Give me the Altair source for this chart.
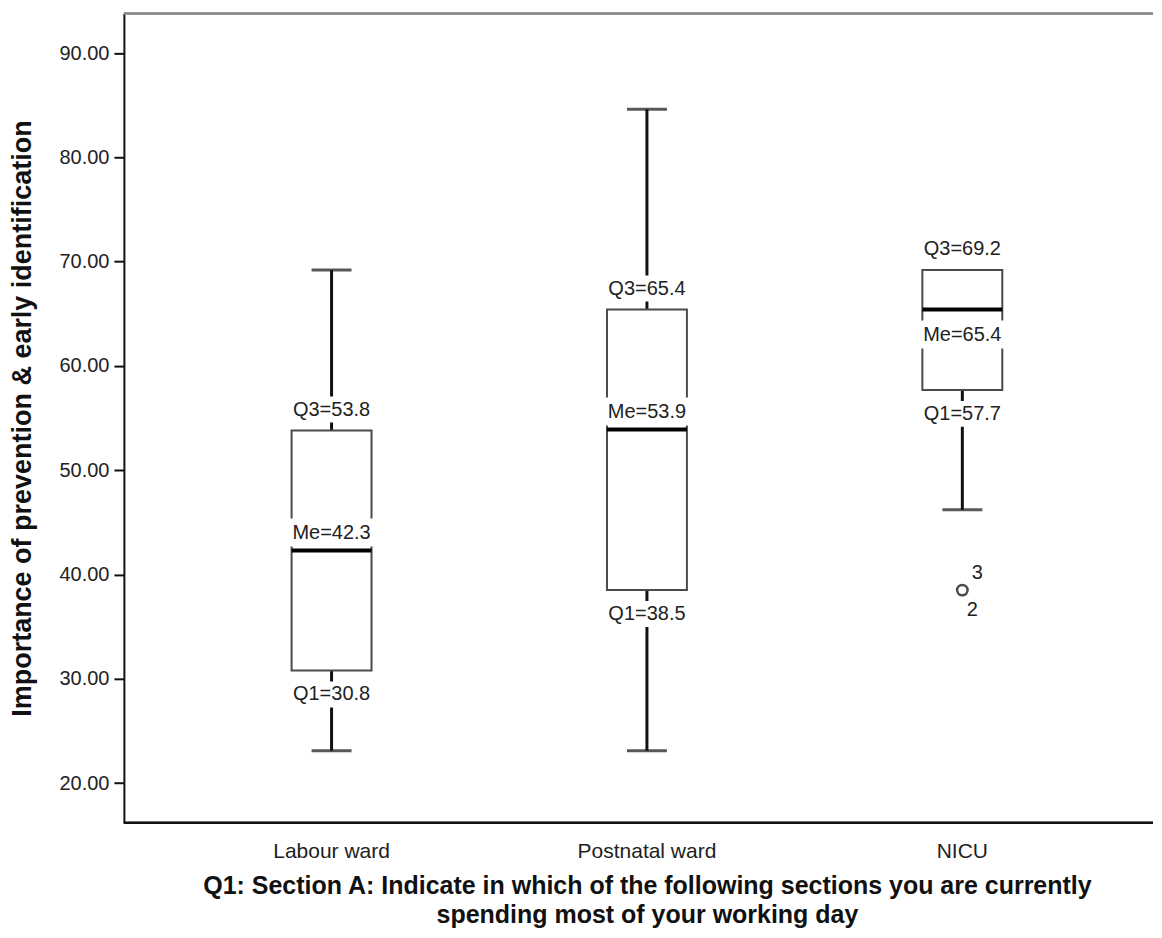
import altair as alt
import pandas as pd

sections = ["Labour ward", "Postnatal ward", "NICU"]
whisker_low = [23.1, 23.1, 46.2]
q1 = [30.8, 38.5, 57.7]
median = [42.3, 53.9, 65.4]
q3 = [53.8, 65.4, 69.2]
whisker_high = [69.2, 84.6, 69.2]

outlier_section = ["NICU"]
outlier_value = [38.5]
outlier_case_top = ["3"]
outlier_case_bottom = ["2"]

y_ticks = [20, 30, 40, 50, 60, 70, 80, 90]
y_title = "Importance of prevention & early identification"
x_title = ["Q1: Section A: Indicate in which of the following sections you are currently",
           "spending most of your working day"]

FONT = "Liberation Sans"
W, H = 1030, 810

box = pd.DataFrame({"section": sections, "low": whisker_low, "q1": q1,
                    "med": median, "q3": q3, "high": whisker_high})
box["q1_lab"] = [f"Q1={v:.1f}" for v in q1]
box["q3_lab"] = [f"Q3={v:.1f}" for v in q3]
box["me_lab"] = [f"Me={v:.1f}" for v in median]
box["me_above"] = [(b - m) > 6 for b, m in zip(q3, median)]

out = pd.DataFrame({"section": outlier_section, "value": outlier_value,
                    "c_top": outlier_case_top, "c_bot": outlier_case_bottom})

x_enc = alt.X("section:N", sort=sections,
              scale=alt.Scale(domain=sections, range=[50, 997]),
              axis=alt.Axis(title=x_title, labelAngle=0, ticks=False, labelPadding=18,
                            labelFontSize=21, labelColor="#222", labelFont=FONT,
                            titleFont=FONT, titleFontSize=25, titleFontWeight="bold",
                            titleColor="#111", titlePadding=12, titleLineHeight=29,
                            domain=False))
y_scale = alt.Scale(domain=[16.2, 93.8], nice=False, zero=False)
y_axis = alt.Axis(title=y_title, values=y_ticks, format=".2f", grid=False,
                  tickSize=10, tickWidth=2, tickColor="#111",
                  domainColor="#111", domainWidth=2,
                  labelFontSize=20, labelColor="#222", labelFont=FONT, labelPadding=5,
                  titleFont=FONT, titleFontSize=27, titleFontWeight="bold",
                  titleColor="#111", titlePadding=22)
xs = alt.X("section:N", sort=sections)

base = alt.Chart(box)

whisk_lo = base.mark_rule(color="#111", strokeWidth=3).encode(
    x=x_enc, y=alt.Y("low:Q", scale=y_scale, axis=y_axis), y2="q1:Q")
whisk_hi = base.mark_rule(color="#111", strokeWidth=3).encode(
    x=xs, y="q3:Q", y2="high:Q")
cap_lo = base.mark_tick(color="#111", size=40, thickness=3).encode(
    x=xs, y="low:Q")
cap_hi = base.transform_filter("datum.high > datum.q3").mark_tick(
    color="#111", size=40, thickness=3).encode(x=xs, y="high:Q")
boxes = base.mark_bar(size=80, fill="white", stroke="#4a4a4a", strokeWidth=2).encode(
    x=xs, y="q1:Q", y2="q3:Q")

bg_q3 = base.mark_tick(color="white", size=84, thickness=26, yOffset=-21, opacity=1).encode(
    x=xs, y="q3:Q")
bg_q1 = base.mark_tick(color="white", size=84, thickness=26, yOffset=24, opacity=1).encode(
    x=xs, y="q1:Q")
bg_me_a = base.transform_filter("datum.me_above").mark_tick(
    color="white", size=84, thickness=28, yOffset=-18, opacity=1).encode(x=xs, y="med:Q")
bg_me_b = base.transform_filter("!datum.me_above").mark_tick(
    color="white", size=84, thickness=28, yOffset=25, opacity=1).encode(x=xs, y="med:Q")

med = base.mark_tick(color="black", size=80, thickness=4, opacity=1).encode(
    x=xs, y="med:Q")

tprops = dict(font=FONT, fontSize=20, color="#222", baseline="middle", align="center")
t_q3 = base.mark_text(dy=-21, **tprops).encode(x=xs, y="q3:Q", text="q3_lab:N")
t_q1 = base.mark_text(dy=24, **tprops).encode(x=xs, y="q1:Q", text="q1_lab:N")
t_me_a = base.transform_filter("datum.me_above").mark_text(dy=-18, **tprops).encode(
    x=xs, y="med:Q", text="me_lab:N")
t_me_b = base.transform_filter("!datum.me_above").mark_text(dy=25, **tprops).encode(
    x=xs, y="med:Q", text="me_lab:N")

ob = alt.Chart(out)
pts = ob.mark_point(shape="circle", size=110, filled=False, color="black", strokeWidth=2.5).encode(
    x=xs, y="value:Q")
c_top = ob.mark_text(dx=15, dy=-17, **tprops).encode(x=xs, y="value:Q", text="c_top:N")
c_bot = ob.mark_text(dx=10, dy=20, **tprops).encode(x=xs, y="value:Q", text="c_bot:N")

top_border = alt.Chart(box).mark_rule(color="#888", strokeWidth=2).encode(
    y=alt.value(0), x=alt.value(0), x2=alt.value(W))
bottom_border = alt.Chart(box).mark_rule(color="#111", strokeWidth=2).encode(
    y=alt.value(H), x=alt.value(0), x2=alt.value(W))

chart = alt.layer(whisk_lo, whisk_hi, cap_lo, cap_hi, boxes, bg_q3, bg_q1, bg_me_a, bg_me_b,
                  med, t_q3, t_q1, t_me_a, t_me_b, pts, c_top, c_bot, top_border,
                  bottom_border).properties(
    width=W, height=H, background="white",
    padding={"left": 0, "top": 4, "right": 0, "bottom": 0}
).configure_view(stroke=None)

chart.save("out.html", embed_options={"renderer": "svg", "actions": False})
